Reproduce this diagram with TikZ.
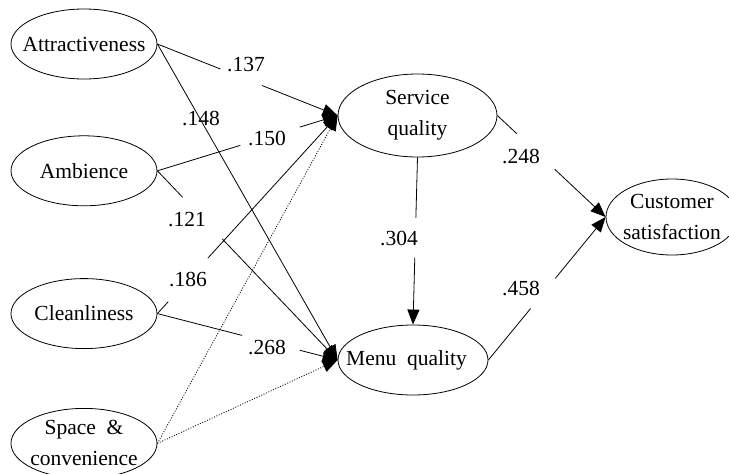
\documentclass[tikz,border=0pt]{standalone}
\usepackage{fontspec}
\setmainfont{Liberation Serif}
\usetikzlibrary{positioning,arrows.meta,shapes}
\tikzstyle{ebox}=[ellipse, draw=black, line width=0.8pt, inner sep=0pt,
                  minimum width=146pt, minimum height=70pt,
                  font=\fontsize{21.5}{31}\selectfont]
\tikzstyle{wlab}=[inner sep=0pt, font=\fontsize{21.5}{26}\selectfont]
\tikzstyle{pline}=[-, line width=0.8pt]
\tikzstyle{parr}=[pline, -{Triangle[length=15pt,width=12pt]}]
\tikzstyle{dline}=[parr, dash pattern=on 1pt off 1.6pt]
% zero-width text, so the ellipse keeps the size we give it
\newcommand{\ctext}[1]{\makebox[0pt]{\parbox{150pt}{\centering #1}}}

\begin{document}
\begin{tikzpicture}[x=1pt,y=-1pt]
\clip (0,0) rectangle (729,474);

% left column
\node (ATTR) [ebox] at (84,44) {\ctext{Attractiveness}};
\node (AMB) [ebox, below=56pt of ATTR] {\ctext{Ambience}};
\node (CLEAN) [ebox, below=72pt of AMB] {\ctext{Cleanliness}};
\node (SPACE) [ebox, below=59pt of CLEAN] {\ctext{Space~~\&\\convenience}};

% mediators and outcome
\node (SERVQ) [ebox, minimum width=159pt, minimum height=83pt] at (417.5,115.5) {\ctext{Service\\quality}};
\node (MENUQ) [ebox, minimum width=150pt] at (413,360) {\makebox[0pt]{Menu~~quality\hspace{13pt}}};
\node (CUST) [ebox, minimum width=132pt, minimum height=76pt] at (672,217) {\ctext{Customer\\satisfaction}};

% path coefficients
\node (L137) [wlab] at (246,65) {.137};
\node (L148) [wlab] at (201,119) {.148};
\node (L150) [wlab] at (267,139) {.150};
\node (L121) [wlab] at (187,220) {.121};
\node (L186) [wlab] at (188,280) {.186};
\node (L268) [wlab] at (267,347) {.268};
\node (L304) [wlab] at (399,238) {.304};
\node (L248) [wlab] at (521,157) {.248};
\node (L458) [wlab] at (521,288) {.458};

% paths into service quality (broken where the coefficient sits)
\path (ATTR.east) -- coordinate[pos=.35] (g1a) coordinate[pos=.58] (g1b) (SERVQ.west);
 \draw[pline] (ATTR.east) -- (g1a);
 \draw[parr] (g1b) -- (SERVQ.west);
\path (AMB.east) -- coordinate[pos=.46] (g3a) coordinate[pos=.79] (g3b) (SERVQ.west);
 \draw[pline] (AMB.east) -- (g3a);
 \draw[parr] (g3b) -- (SERVQ.west);
\path (CLEAN.east) -- coordinate[pos=.06] (g5a) coordinate[pos=.28] (g5b) (SERVQ.west);
 \draw[pline] (CLEAN.east) -- (g5a);
 \draw[parr] (g5b) -- (SERVQ.west);
\draw[dline] (SPACE.east) -- (SERVQ.west);

% paths into menu quality
\draw[parr] (ATTR.east) -- (MENUQ.west);
\path (AMB.east) -- coordinate[pos=.14] (g4a) coordinate[pos=.36] (g4b) (MENUQ.west);
 \draw[pline] (AMB.east) -- (g4a);
 \draw[parr] (g4b) -- (MENUQ.west);
\path (CLEAN.east) -- coordinate[pos=.47] (g6a) coordinate[pos=.79] (g6b) (MENUQ.west);
 \draw[pline] (CLEAN.east) -- (g6a);
 \draw[parr] (g6b) -- (MENUQ.west);
\draw[dline] (SPACE.east) -- (MENUQ.west);

% service -> menu
\path (SERVQ.south) -- coordinate[pos=.36] (g9a) coordinate[pos=.60] (g9b) (MENUQ.north);
 \draw[pline] (SERVQ.south) -- (g9a);
 \draw[parr] (g9b) -- (MENUQ.north);

% into customer satisfaction
\path (SERVQ.east) -- coordinate[pos=.18] (g10a) coordinate[pos=.53] (g10b) (CUST.west);
 \draw[pline] (SERVQ.east) -- (g10a);
 \draw[parr] (g10b) -- (CUST.west);
\path (MENUQ.east) -- coordinate[pos=.36] (g11a) coordinate[pos=.57] (g11b) (CUST.west);
 \draw[pline] (MENUQ.east) -- (g11a);
 \draw[parr] (g11b) -- (CUST.west);

\end{tikzpicture}
\end{document}
